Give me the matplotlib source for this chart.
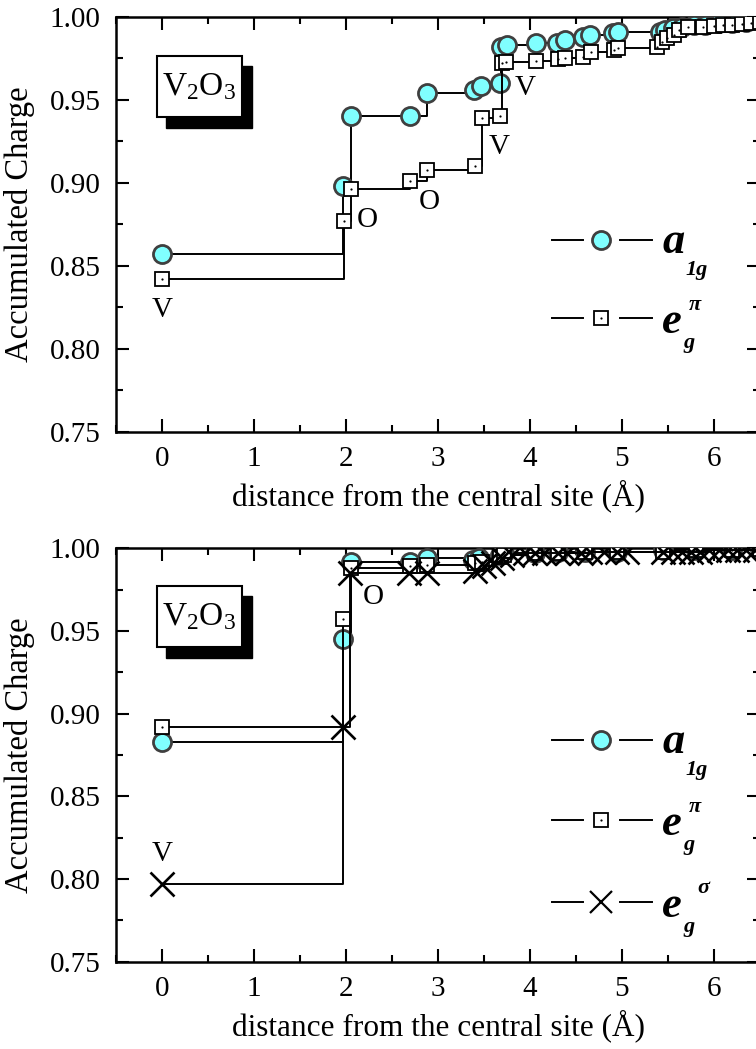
import matplotlib
matplotlib.use('Agg')
import matplotlib.pyplot as plt
from matplotlib.patches import Rectangle
from matplotlib.transforms import Affine2D
from matplotlib.ticker import MultipleLocator, FormatStrFormatter

plt.rcParams['font.family'] = ['Liberation Serif', 'DejaVu Serif']
plt.rcParams['mathtext.fontset'] = 'custom'
plt.rcParams['mathtext.rm'] = 'Liberation Serif'
plt.rcParams['mathtext.it'] = 'Liberation Serif:italic'
plt.rcParams['mathtext.bf'] = 'Liberation Serif:bold'

# ---------------- data ----------------
top_a1g_d = [0.00, 1.97, 2.05, 2.70, 2.88, 3.39, 3.47, 3.67, 3.69, 3.75, 4.07, 4.29, 4.38,
             4.58, 4.65, 4.90, 4.96, 5.41, 5.47, 5.55, 5.65, 5.78, 5.90, 6.05, 6.20, 6.35, 6.50]
top_a1g_v = [0.857, 0.898, 0.940, 0.940, 0.954, 0.956, 0.958, 0.960, 0.982, 0.983, 0.984, 0.984, 0.986,
             0.988, 0.989, 0.990, 0.9905, 0.991, 0.992, 0.993, 0.994, 0.995, 0.995, 0.996, 0.996, 0.997, 0.998]

top_egpi_d = [0.00, 1.98, 2.05, 2.70, 2.88, 3.40, 3.48, 3.67, 3.70, 3.74, 4.07, 4.30, 4.38, 4.58,
              4.66, 4.91, 4.96, 5.38, 5.44, 5.49, 5.56, 5.62, 5.72, 5.88, 6.00, 6.10, 6.20, 6.30, 6.40, 6.50]
top_egpi_v = [0.842, 0.877, 0.896, 0.901, 0.908, 0.910, 0.939, 0.940, 0.972, 0.973, 0.9735, 0.9745, 0.975, 0.976,
              0.979, 0.980, 0.981, 0.9815, 0.985, 0.987, 0.989, 0.992, 0.994, 0.994, 0.9945, 0.995, 0.995, 0.9955, 0.996, 0.997]

bot_a1g_d = [0.00, 1.97, 2.05, 2.70, 2.88, 3.38, 3.45, 3.67, 3.72, 4.05, 4.30, 4.60, 4.95, 5.45, 5.80, 6.20, 6.50]
bot_a1g_v = [0.883, 0.945, 0.992, 0.992, 0.994, 0.993, 0.994, 0.996, 0.997, 0.997, 0.998, 0.998, 0.998, 0.999, 0.999, 0.999, 0.9995]

bot_egpi_d = [0.00, 1.97, 2.05, 2.70, 2.88, 3.40, 3.48, 3.67, 3.72, 4.05, 4.30, 4.60, 4.95, 5.45, 5.80, 6.20, 6.50]
bot_egpi_v = [0.892, 0.957, 0.988, 0.989, 0.990, 0.991, 0.992, 0.995, 0.996, 0.997, 0.997, 0.998, 0.998, 0.998, 0.999, 0.999, 0.9995]

bot_egsig_d = [0.00, 1.97, 2.04, 2.68, 2.88, 3.40, 3.50, 3.60, 3.70, 3.80, 3.95, 4.05, 4.15, 4.30, 4.40, 4.55,
               4.65, 4.80, 4.95, 5.05, 5.45, 5.55, 5.65, 5.75, 5.85, 5.95, 6.05, 6.15, 6.25, 6.35, 6.45]
bot_egsig_v = [0.797, 0.892, 0.985, 0.985, 0.985, 0.986, 0.989, 0.991, 0.994, 0.996, 0.997, 0.997, 0.997, 0.997, 0.997, 0.997,
               0.998, 0.998, 0.998, 0.998, 0.998, 0.998, 0.998, 0.998, 0.998, 0.999, 0.999, 0.999, 0.999, 0.999, 0.999]

# site labels: (text, distance, charge)
top_labels = [("V", 0.00, 0.8235), ("O", 2.23, 0.8776), ("O", 2.91, 0.8887),
              ("V", 3.67, 0.9218), ("V", 3.95, 0.9569)]
bot_labels = [("V", 0.00, 0.815), ("O", 2.30, 0.9707)]

x_ticks = [0, 1, 2, 3, 4, 5, 6]
xlabel = "distance from the central site (Å)"
ylabel = "Accumulated Charge"

# ---------------- figure ----------------
W, H = 756, 1049
fig = plt.figure(figsize=(W / 100, H / 100), dpi=100)
pxT = Affine2D().scale(1.0 / W, -1.0 / H).translate(0, 1) + fig.transFigure


def add_axes_px(left, top, right, bottom):
    return fig.add_axes([left / W, 1 - bottom / H, (right - left) / W, (bottom - top) / H])


ax1 = add_axes_px(116, 16.7, 760, 432)
ax2 = add_axes_px(116, 548.3, 760, 961.7)

CYAN = '#80ffff'
EDGE = '#3f3f3f'
circ_kw = dict(marker='o', ms=13, mfc=CYAN, mec=EDGE, mew=2.0)
sq_kw = dict(marker='s', ms=10, mfc='white', mec='black', mew=1.3)
x_kw = dict(marker='x', ms=17, mec='black', mew=1.9)
LW = 1.4


def style_axes(ax):
    ax.set_xlim(-0.5, 6.5)
    ax.set_ylim(0.75, 1.00)
    ax.set_xticks(x_ticks)
    ax.xaxis.set_minor_locator(MultipleLocator(0.5))
    ax.yaxis.set_major_locator(MultipleLocator(0.05))
    ax.yaxis.set_minor_locator(MultipleLocator(0.025))
    ax.yaxis.set_major_formatter(FormatStrFormatter('%.2f'))
    ax.tick_params(which='both', direction='in', top=True, right=True, width=1.5, labelsize=21)
    ax.tick_params(which='major', length=9.5)
    ax.tick_params(which='minor', length=5)
    ax.tick_params(axis='y', pad=11)
    ax.tick_params(axis='x', pad=10)
    for s in ax.spines.values():
        s.set_linewidth(1.8)
    ax.set_xlabel(xlabel, fontsize=22.5)
    ax.set_ylabel(ylabel, fontsize=23.5)
    ax.yaxis.set_label_coords(-0.125, 0.5)
    ax.xaxis.set_label_coords(0.5, -0.115)


def draw_square_series(ax, d, v, z):
    ax.plot(d, v, drawstyle='steps-post', color='black', lw=LW, zorder=z, **sq_kw)
    ax.plot(d, v, ls='none', marker='o', ms=1.6, color='black', mew=0, zorder=z + 0.1)


# upper panel
style_axes(ax1)
ax1.plot(top_a1g_d, top_a1g_v, drawstyle='steps-post', color='black', lw=LW, zorder=3, **circ_kw)
draw_square_series(ax1, top_egpi_d, top_egpi_v, 4)
for t, d, v in top_labels:
    ax1.text(d, v, t, fontsize=21, ha='center', va='center', zorder=6)

# lower panel
style_axes(ax2)
ax2.plot(bot_a1g_d, bot_a1g_v, drawstyle='steps-post', color='black', lw=LW, zorder=3, **circ_kw)
draw_square_series(ax2, bot_egpi_d, bot_egpi_v, 4)
ax2.plot(bot_egsig_d, bot_egsig_v, drawstyle='steps-post', color='black', lw=LW, zorder=5, **x_kw)
for t, d, v in bot_labels:
    ax2.text(d, v, t, fontsize=21, ha='center', va='center', zorder=6)


# ---------------- V2O3 boxes ----------------
def v2o3_box(top):
    fig.patches.append(Rectangle((166, top + 10), 86.3, 62, transform=pxT,
                                 facecolor='black', edgecolor='black', zorder=10))
    fig.patches.append(Rectangle((156.7, top), 85, 61.6, transform=pxT,
                                 facecolor='white', edgecolor='black', lw=1.5, zorder=11))
    fig.text(199, top + 31, r'V$_{2}$O$_{3}$', transform=pxT, fontsize=24,
             ha='center', va='center', zorder=12)


v2o3_box(55.7)
v2o3_box(585.7)


# ---------------- hand-made legends ----------------
def leg_row(y, kind):
    for xs in ([551.7, 583.3], [620, 651.7]):
        fig.add_artist(plt.Line2D(xs, [y, y], transform=pxT, color='black', lw=LW))
    if kind == 'a':
        fig.add_artist(plt.Line2D([601], [y], transform=pxT, ls='none', **circ_kw))
        fig.text(662, y + 13, 'a', transform=pxT, fontsize=32, fontweight='bold',
                 fontstyle='italic', va='baseline')
        fig.text(685, y + 35, '1g', transform=pxT, fontsize=16, fontweight='bold',
                 fontstyle='italic', va='baseline')
    elif kind == 'pi':
        fig.add_artist(plt.Line2D([601], [y], transform=pxT, ls='none', **sq_kw))
        fig.add_artist(plt.Line2D([601], [y], transform=pxT, ls='none', marker='o',
                                  ms=1.6, color='black', mew=0))
        fig.text(662, y + 15, 'e', transform=pxT, fontsize=32, fontweight='bold',
                 fontstyle='italic', va='baseline')
        fig.text(689, y - 8, 'π', transform=pxT, fontsize=16, fontweight='bold',
                 fontstyle='italic', va='baseline')
        fig.text(683, y + 30, 'g', transform=pxT, fontsize=16, fontweight='bold',
                 fontstyle='italic', va='baseline')
    else:
        fig.add_artist(plt.Line2D([601], [y], transform=pxT, ls='none', marker='x',
                                  ms=16, mec='black', mew=1.6))
        fig.text(662, y + 15, 'e', transform=pxT, fontsize=32, fontweight='bold',
                 fontstyle='italic', va='baseline')
        fig.text(697, y - 9, 'σ', transform=pxT, fontsize=16, fontweight='bold',
                 fontstyle='italic', va='baseline')
        fig.text(683, y + 30, 'g', transform=pxT, fontsize=16, fontweight='bold',
                 fontstyle='italic', va='baseline')


leg_row(240, 'a')
leg_row(318, 'pi')
leg_row(740, 'a')
leg_row(820, 'pi')
leg_row(901.7, 'sig')

fig.savefig('out.png', dpi=100)
